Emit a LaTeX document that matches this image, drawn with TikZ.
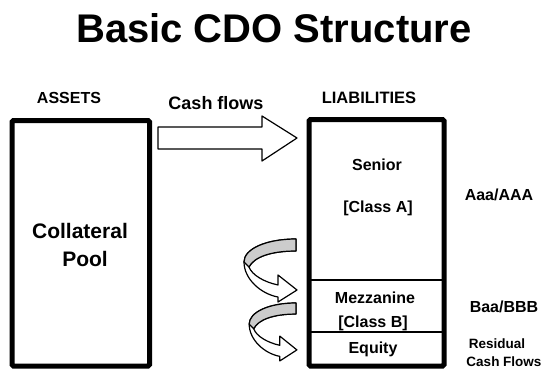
\documentclass[tikz,border=0pt]{standalone}
\usepackage{graphicx}
\usepackage{fontspec}
\setmainfont{Liberation Sans}
\begin{document}
\begin{tikzpicture}[x=1pt,y=-1pt,
  lbl/.style={anchor=base,inner sep=0pt,font=\bfseries\fontsize{16}{19}\selectfont},
  bigbox/.style={draw,line width=5pt,rounded corners=1.5pt,inner sep=0pt},
  thin/.style={line width=1.2pt,line join=round},
  twist/.pic={
    \filldraw[thin,fill=white] (0,0) .. controls (-30,0) and (-52,10) .. (-52,23)
      .. controls (-52,40) and (-35,55) .. (-18,58) -- (-18,63) -- (1,51) -- (-18,36) -- (-18,46)
      .. controls (-32,43) and (-44,36) .. (-47,28)
      .. controls (-42,18) and (-25,12) .. (0,12) -- cycle;
    \filldraw[thin,fill=gray!40] (0,0) .. controls (-30,0) and (-52,10) .. (-52,23)
      -- (-47,28) .. controls (-42,18) and (-25,12) .. (0,12) -- cycle;
  }]
\useasboundingbox (0,0) rectangle (544,370);
% title
\node[anchor=base,inner sep=0pt,font=\bfseries\fontsize{40}{48}\selectfont] (title) at (274,42) {Basic CDO Structure};
% boxes
\node[bigbox,minimum width=137.5pt,minimum height=245.5pt] (assets) at (80.75,243.25) {};
\node[bigbox,minimum width=135pt,minimum height=246.5pt] (liab) at (376.5,242.75) {};
\coordinate (d1l) at (309,280); \coordinate (d1r) at (444,280);
\coordinate (d2l) at (309,332); \coordinate (d2r) at (444,332);
\draw[line width=1.5pt] (d1l) -- (d1r);
\draw[line width=1.5pt] (d2l) -- (d2r);
% headers
\node[lbl] (hassets) at (69,103) {ASSETS};
\node[lbl,font=\bfseries\fontsize{18}{21}\selectfont] (hcash) at (216,109.5) {Cash flows};
\node[lbl,font=\bfseries\fontsize{16.5}{19}\selectfont] (hliab) at (369,103) {LIABILITIES};
% texts
\node[lbl,font=\bfseries\fontsize{21}{25}\selectfont] (coll) at (80,238.3) {Collateral};
\node[lbl,font=\bfseries\fontsize{21}{25}\selectfont] (pool) at (85,266.7) {Pool};
\node[lbl] (senior) at (377,170) {Senior};
\node[lbl] (classa) at (378,212) {[Class A]};
\node[lbl] (mezz) at (375,303) {Mezzanine};
\node[lbl] (classb) at (373,327) {[Class B]};
\node[lbl] (equity) at (373,353) {Equity};
\node[lbl] (aaa) at (499,200) {Aaa/AAA};
\node[lbl] (baa) at (504,312) {Baa/BBB};
\node[lbl,font=\bfseries\fontsize{13.5}{16}\selectfont] (resid) at (497,348) {Residual};
\node[lbl,font=\bfseries\fontsize{13.5}{16}\selectfont] (resid2) at (504,366) {Cash Flows};
% cash flow block arrow
\filldraw[thin,fill=white] (158,127) -- (262,127) -- (262,116) -- (297,138) -- (262,161) -- (262,149) -- (158,149) -- cycle;
% curved arrows
\pic at (296,239) {twist};
\pic[xscale=0.9,yscale=0.92] at (296,303) {twist};
\end{tikzpicture}
\end{document}
